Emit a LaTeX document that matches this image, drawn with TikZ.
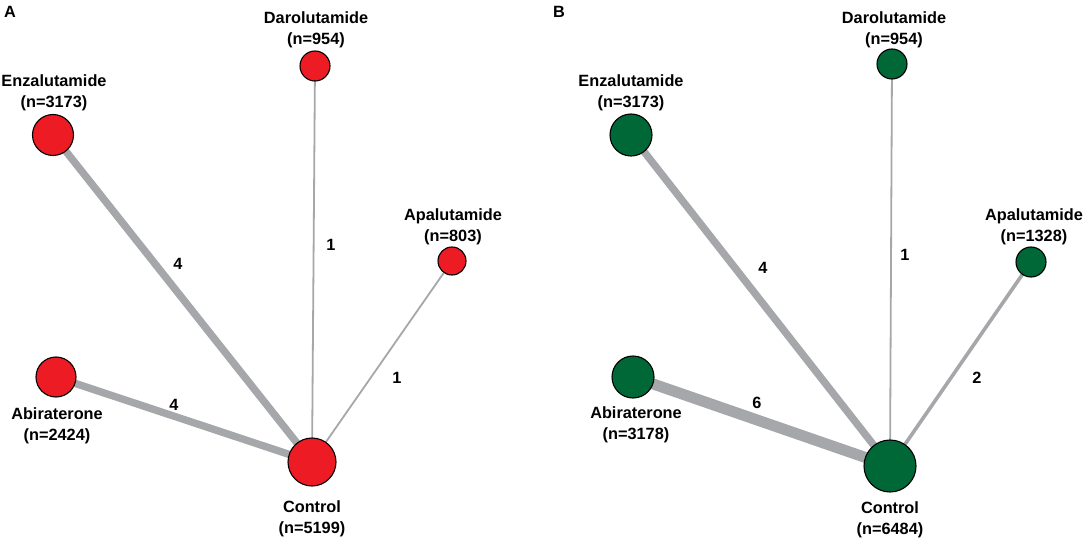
\documentclass[tikz,border=0pt]{standalone}
\usepackage{fontspec}
\setmainfont{Liberation Sans}
\pgfdeclarelayer{bg}
\pgfsetlayers{bg,main}
\definecolor{nred}{HTML}{ED1C24}
\definecolor{ngreen}{HTML}{006837}
\definecolor{egray}{HTML}{A5A7AA}
\begin{document}
\begin{tikzpicture}[x=1pt,y=-1pt,
  trt/.style={circle,draw=black,line width=1.1pt,inner sep=0pt,minimum size=#1},
  redn/.style={trt=#1,fill=nred},
  grnn/.style={trt=#1,fill=ngreen},
  lbl/.style={font=\fontsize{16.3}{21}\selectfont\bfseries,align=center,inner sep=0pt},
  elbl/.style={font=\fontsize{16.3}{21}\selectfont\bfseries,inner sep=0pt},
  edge/.style={draw=egray,line width=#1}]
\useasboundingbox (0,0) rectangle (1084,540);
% ---------------- Panel A ----------------
\node[elbl] (pa) at (10,12) {A};
\node[redn=30pt] (adar) at (315,66) {};
\node[redn=41pt] (aenz) at (53,135) {};
\node[redn=28pt] (aapa) at (452,261) {};
\node[redn=40pt] (aabi) at (56,377) {};
\node[redn=48pt] (acon) at (312,462) {};
\node[lbl] (tadar) at (316,30) {Darolutamide\\(n=954)};
\node[lbl] (taenz) at (54,93) {Enzalutamide\\(n=3173)};
\node[lbl] (taapa) at (453,227) {Apalutamide\\(n=803)};
\node[lbl] (taabi) at (57,426) {Abiraterone\\(n=2424)};
\node[lbl] (tacon) at (312,519) {Control\\(n=5199)};
\begin{pgfonlayer}{bg}
\draw[edge=1.8pt] (adar.center) -- (acon.center);
\draw[edge=7.4pt] (aenz.center) -- (acon.center);
\draw[edge=1.8pt] (aapa.center) -- (acon.center);
\draw[edge=7.4pt] (aabi.center) -- (acon.center);
\end{pgfonlayer}
\node[elbl] (ea1) at (331,245) {1};
\node[elbl] (ea2) at (178,264) {4};
\node[elbl] (ea3) at (397,378) {1};
\node[elbl] (ea4) at (174,405) {4};
% ---------------- Panel B ----------------
\node[elbl] (pb) at (559,12) {B};
\node[grnn=30pt] (bdar) at (892,64) {};
\node[grnn=42pt] (benz) at (631,135) {};
\node[grnn=30pt] (bapa) at (1031,262) {};
\node[grnn=42pt] (babi) at (633,377) {};
\node[grnn=52pt] (bcon) at (890,466) {};
\node[lbl] (tbdar) at (894,30) {Darolutamide\\(n=954)};
\node[lbl] (tbenz) at (631,93) {Enzalutamide\\(n=3173)};
\node[lbl] (tbapa) at (1034,227) {Apalutamide\\(n=1328)};
\node[lbl] (tbabi) at (636,425) {Abiraterone\\(n=3178)};
\node[lbl] (tbcon) at (890,520) {Control\\(n=6484)};
\begin{pgfonlayer}{bg}
\draw[edge=1.8pt] (bdar.center) -- (bcon.center);
\draw[edge=7.4pt] (benz.center) -- (bcon.center);
\draw[edge=3.6pt] (bapa.center) -- (bcon.center);
\draw[edge=11pt] (babi.center) -- (bcon.center);
\end{pgfonlayer}
\node[elbl] (eb1) at (905,255) {1};
\node[elbl] (eb2) at (763,268) {4};
\node[elbl] (eb3) at (977,378) {2};
\node[elbl] (eb4) at (757,403) {6};
\end{tikzpicture}
\end{document}
